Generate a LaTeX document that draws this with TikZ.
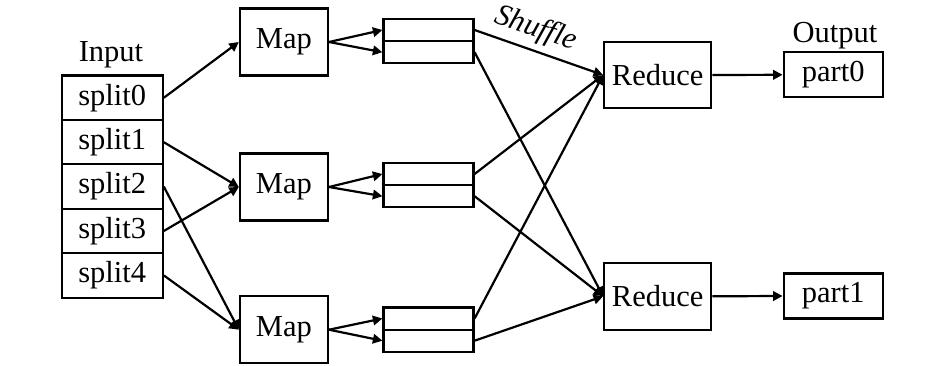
\documentclass[tikz,border=0pt]{standalone}
\usepackage{fontspec}
\setmainfont{Liberation Serif}
\usetikzlibrary{arrows.meta}
\begin{document}
\begin{tikzpicture}[x=1pt,y=-1pt,
  box/.style={draw,line width=2.2pt,inner sep=0pt,font=\fontsize{30.5}{36}\selectfont},
  splitbox/.style={box,minimum width=101pt,minimum height=44.4pt},
  mapbox/.style={box,minimum width=88pt,minimum height=67pt},
  bufbox/.style={box,minimum width=90pt,minimum height=22.2pt},
  redbox/.style={box,minimum width=107pt,minimum height=66.7pt},
  partbox/.style={box,minimum width=99pt,minimum height=45pt},
  lbl/.style={inner sep=0pt,font=\fontsize{30.5}{36}\selectfont},
  arr/.style={line width=2.2pt,-{Triangle[length=9.5pt,width=9.5pt]}}]
\useasboundingbox (0,0) rectangle (945,366);
% input splits
\node[splitbox] (s0) at (112.2,97.8) {split0};
\node[splitbox] (s1) at (112.2,142.2) {split1};
\node[splitbox] (s2) at (112.2,186.6) {split2};
\node[splitbox] (s3) at (112.2,231) {split3};
\node[splitbox] (s4) at (112.2,275.4) {split4};
\node[lbl,anchor=base] (inp) at (111,61.7) {Input};
% maps
\node[mapbox] (m1) at (283.9,42) {Map};
\node[mapbox] (m2) at (283.9,187) {Map};
\node[mapbox] (m3) at (283.9,329.7) {Map};
% buffers
\node[bufbox] (b1a) at (428.5,30) {};
\node[bufbox] (b1b) at (428.5,52.2) {};
\node[bufbox] (b2a) at (428.5,174) {};
\node[bufbox] (b2b) at (428.5,196.2) {};
\node[bufbox] (b3a) at (428.5,318.5) {};
\node[bufbox] (b3b) at (428.5,340.7) {};
% reduces
\node[redbox] (r1) at (657.7,75) {Reduce};
\node[redbox] (r2) at (657.7,296.3) {Reduce};
% outputs
\node[partbox] (p0) at (833.2,74.8) {part0};
\node[partbox] (p1) at (833.2,296) {part1};
\node[lbl,anchor=base] (out) at (835,42.5) {Output};
\node[lbl,rotate=-19,font=\fontsize{30.5}{36}\selectfont\itshape] (shuf) at (536,29) {Shuffle};
% input -> map
\draw[arr] (s0.east) -- (m1.west);
\draw[arr] (s1.east) -- (m2.west);
\draw[arr] (s3.east) -- (m2.west);
\draw[arr] (s2.east) -- (m3.west);
\draw[arr] (s4.east) -- (m3.west);
% map -> buffers
\draw[arr] (m1.east) -- (b1a.west);
\draw[arr] (m1.east) -- (b1b.west);
\draw[arr] (m2.east) -- (b2a.west);
\draw[arr] (m2.east) -- (b2b.west);
\draw[arr] (m3.east) -- (b3a.west);
\draw[arr] (m3.east) -- (b3b.west);
% shuffle
\draw[arr] (b1a.east) -- (r1.west);
\draw[arr] (b2a.east) -- (r1.west);
\draw[arr] (b3a.east) -- (r1.west);
\draw[arr] (b1b.east) -- (r2.west);
\draw[arr] (b2b.east) -- (r2.west);
\draw[arr] (b3b.east) -- (r2.west);
% reduce -> output
\draw[arr] (r1.east) -- (p0.west);
\draw[arr] (r2.east) -- (p1.west);
\end{tikzpicture}
\end{document}
